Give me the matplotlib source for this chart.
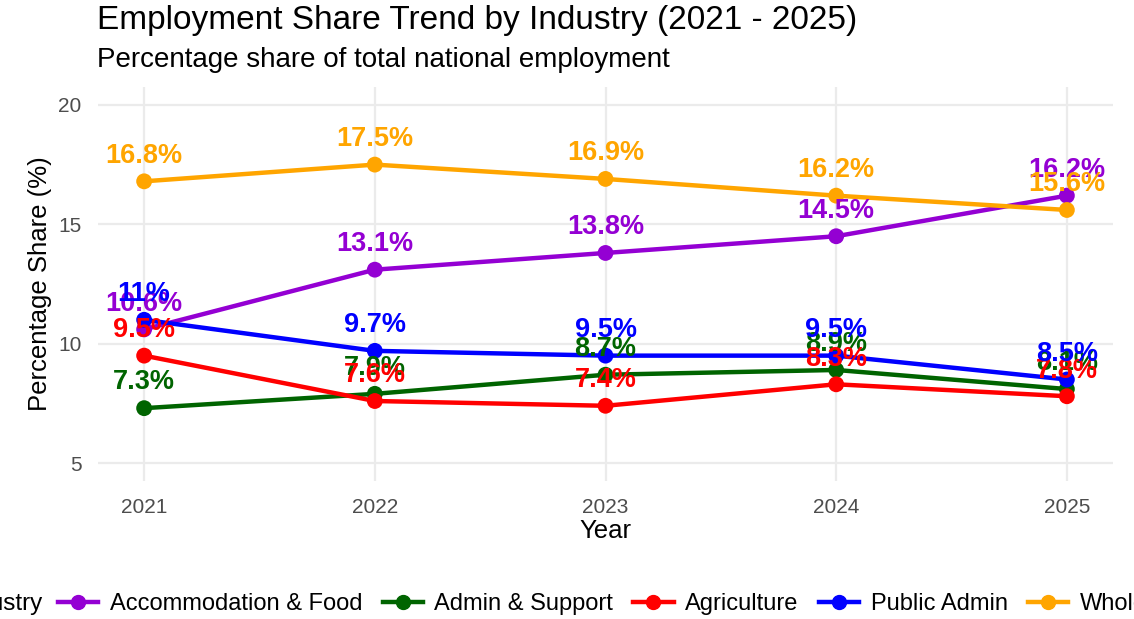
import matplotlib
matplotlib.use("Agg")
import matplotlib.pyplot as plt
from matplotlib.lines import Line2D

# ======================
# DATA
# ======================

years = [2021, 2022, 2023, 2024, 2025]
industries = ["Accommodation & Food", "Admin & Support", "Agriculture",
              "Public Admin", "Wholesale"]
accommodation = [10.6, 13.1, 13.8, 14.5, 16.2]
admin_support = [7.3, 7.9, 8.7, 8.9, 8.1]
agriculture = [9.5, 7.6, 7.4, 8.3, 7.8]
public_admin = [11.0, 9.7, 9.5, 9.5, 8.5]
wholesale = [16.8, 17.5, 16.9, 16.2, 15.6]
y_ticks = [5, 10, 15, 20]

series = [accommodation, admin_support, agriculture, public_admin, wholesale]
colors = ["#9400D3", "#006400", "#FF0000", "#0000FF", "#FFA500"]

# ======================
# FIGURE
# ======================

plt.rcParams["font.family"] = ["Liberation Sans", "DejaVu Sans"]

fig = plt.figure(figsize=(11.34, 6.19), dpi=100)
ax = fig.add_axes([98 / 1134, 1 - 481 / 619, (1113 - 98) / 1134, (481 - 87) / 619])

# lines first, then points, then labels (ggplot layer order)
for vals, col in zip(series, colors):
    ax.plot(years, vals, color=col, linewidth=3.2, zorder=3, solid_capstyle="butt")
for vals, col in zip(series, colors):
    ax.scatter(years, vals, color=col, s=130, zorder=4, edgecolors="none")
for vals, col in zip(series, colors):
    for x, v in zip(years, vals):
        ax.annotate(f"{v:g}%", (x, v), xytext=(0, 18.5), textcoords="offset points",
                    ha="center", va="center", color=col, fontsize=19.5,
                    fontweight="bold", zorder=5)

ax.set_xlim(2020.8, 2025.2)
ax.set_ylim(4.25, 20.75)
ax.set_xticks(years)
ax.set_xticklabels([str(y) for y in years])
ax.set_yticks(y_ticks)

for s in ax.spines.values():
    s.set_visible(False)
ax.grid(True, color="#EBEBEB", linewidth=1.6, zorder=0)
ax.set_axisbelow(True)
ax.tick_params(length=0, labelsize=15, colors="#4D4D4D")
ax.tick_params(axis="x", pad=12)
ax.tick_params(axis="y", pad=12)

ax.set_xlabel("Year", fontsize=18.5, color="black", labelpad=2)
ax.set_ylabel("Percentage Share (%)", fontsize=18.5, color="black", labelpad=4)

fig.text(97 / 1134, 1 - 20 / 619, "Employment Share Trend by Industry (2021 - 2025)",
         fontsize=24, ha="left", va="center")
fig.text(97 / 1134, 1 - 60 / 619, "Percentage share of total national employment",
         fontsize=20, ha="left", va="center")

# legend at the bottom, wider than the figure so both ends get cut off
handles = [Line2D([0], [0], color=c, linewidth=3.2, marker="o", markersize=10)
           for c in colors]
fig.text(43 / 1134, 1 - 604 / 619, "Industry", fontsize=17.5, ha="right", va="center")
fig.legend(handles, industries, loc="center left", bbox_to_anchor=(58 / 1134, 1 - 604 / 619),
           ncol=5, frameon=False, fontsize=17, handlelength=1.7, handletextpad=0.5,
           columnspacing=0.85, borderaxespad=0, borderpad=0)

fig.savefig("out.png", dpi=100)
